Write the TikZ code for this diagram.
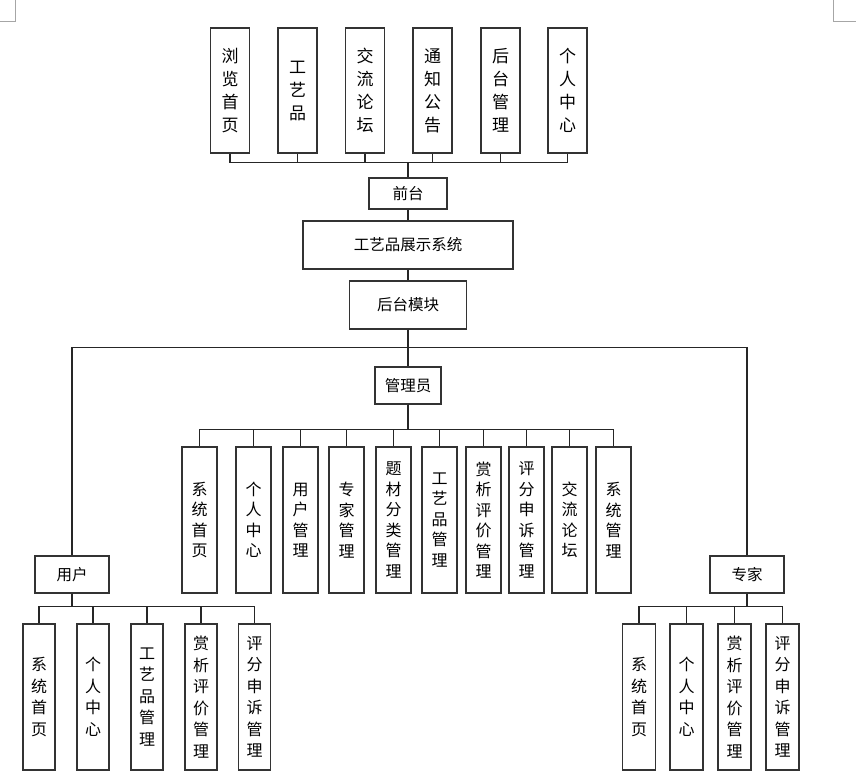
\documentclass[tikz,border=0pt]{standalone}
\usepackage{fontspec}
\newfontfamily\cjk{Noto Sans CJK SC}
\usepackage{tikz}

\begin{document}
\begin{tikzpicture}[
    x=1pt, y=-1pt,
    box/.style={draw=black!80, line width=1.2pt, fill=white,
        inner sep=0pt, align=center, font=\cjk\fontsize{15.5}{21}\selectfont},
    topbox/.style={box, minimum width=39pt, minimum height=125pt,
        font=\cjk\fontsize{17}{23}\selectfont},
    adminbox/.style={box, minimum width=35pt, minimum height=146pt,
        font=\cjk\fontsize{16}{20.5}\selectfont},
    subbox/.style={box, minimum width=32pt, minimum height=146pt,
        font=\cjk\fontsize{16}{21.5}\selectfont},
    edge/.style={draw=black!85, line width=1.2pt},
    corner/.style={draw=black!35, line width=0.8pt}
]
    \useasboundingbox (0,0) rectangle (856,779);
    % page corner marks
    \draw[corner] (15,0) -- (15,21) -- (0,21);
    \draw[corner] (833,0) -- (833,21) -- (856,21);

    % front end
    \node[topbox] (t1) at (230,90.5) {浏\\览\\首\\页};
    \node[topbox] (t2) at (297.5,90.5) {工\\艺\\品};
    \node[topbox] (t3) at (365,90.5) {交\\流\\论\\坛};
    \node[topbox] (t4) at (432.5,90.5) {通\\知\\公\\告};
    \node[topbox] (t5) at (500.5,90.5) {后\\台\\管\\理};
    \node[topbox] (t6) at (567.5,90.5) {个\\人\\中\\心};
    \node[box, minimum width=78pt, minimum height=31pt] (front) at (408,193.5) {前台};
    \node[box, minimum width=210pt, minimum height=48pt] (sys) at (408,245) {工艺品展示系统};
    \node[box, minimum width=117pt, minimum height=48pt] (back) at (408,305) {后台模块};
    \node[box, minimum width=66pt, minimum height=37pt] (admin) at (408,385.5) {管理员};
    \node[box, minimum width=74pt, minimum height=37pt] (user) at (72,574.5) {用户};
    \node[box, minimum width=74pt, minimum height=37pt] (expert) at (747,574.5) {专家};

    % admin modules
    \node[adminbox] (a1) at (199.5,520) {系\\统\\首\\页};
    \node[adminbox] (a2) at (253.5,520) {个\\人\\中\\心};
    \node[adminbox] (a3) at (300.5,520) {用\\户\\管\\理};
    \node[adminbox] (a4) at (346.5,520) {专\\家\\管\\理};
    \node[adminbox] (a5) at (393.5,520) {题\\材\\分\\类\\管\\理};
    \node[adminbox] (a6) at (439.5,520) {工\\艺\\品\\管\\理};
    \node[adminbox] (a7) at (483.5,520) {赏\\析\\评\\价\\管\\理};
    \node[adminbox] (a8) at (526.5,520) {评\\分\\申\\诉\\管\\理};
    \node[adminbox] (a9) at (569.5,520) {交\\流\\论\\坛};
    \node[adminbox] (a10) at (613.5,520) {系\\统\\管\\理};

    % user modules
    \node[subbox] (u1) at (39,697) {系\\统\\首\\页};
    \node[subbox] (u2) at (93,697) {个\\人\\中\\心};
    \node[subbox] (u3) at (147,697) {工\\艺\\品\\管\\理};
    \node[subbox] (u4) at (201,697) {赏\\析\\评\\价\\管\\理};
    \node[subbox] (u5) at (254.5,697) {评\\分\\申\\诉\\管\\理};

    % expert modules
    \node[subbox, minimum width=33pt] (e1) at (639,697) {系\\统\\首\\页};
    \node[subbox, minimum width=33pt] (e2) at (686.5,697) {个\\人\\中\\心};
    \node[subbox, minimum width=33pt] (e3) at (734.5,697) {赏\\析\\评\\价\\管\\理};
    \node[subbox, minimum width=33pt] (e4) at (782.5,697) {评\\分\\申\\诉\\管\\理};

    % connectors
    \draw[edge] (t1.south) -- ++(0,9) -| (front.north);
    \draw[edge] (t2.south) -- ++(0,9) -| (front.north);
    \draw[edge] (t3.south) -- ++(0,9) -| (front.north);
    \draw[edge] (t4.south) -- ++(0,9) -| (front.north);
    \draw[edge] (t5.south) -- ++(0,9) -| (front.north);
    \draw[edge] (t6.south) -- ++(0,9) -| (front.north);
    \draw[edge] (front) -- (sys);
    \draw[edge] (sys) -- (back);
    \draw[edge] (back) -- (admin);
    \draw[edge] (back.south) -- ++(0,18) -| (user.north);
    \draw[edge] (back.south) -- ++(0,18) -| (expert.north);
    \draw[edge] (admin.south) -- ++(0,25) -| (a1.north);
    \draw[edge] (admin.south) -- ++(0,25) -| (a2.north);
    \draw[edge] (admin.south) -- ++(0,25) -| (a3.north);
    \draw[edge] (admin.south) -- ++(0,25) -| (a4.north);
    \draw[edge] (admin.south) -- ++(0,25) -| (a5.north);
    \draw[edge] (admin.south) -- ++(0,25) -| (a6.north);
    \draw[edge] (admin.south) -- ++(0,25) -| (a7.north);
    \draw[edge] (admin.south) -- ++(0,25) -| (a8.north);
    \draw[edge] (admin.south) -- ++(0,25) -| (a9.north);
    \draw[edge] (admin.south) -- ++(0,25) -| (a10.north);
    \draw[edge] (user.south) -- ++(0,13) -| (u1.north);
    \draw[edge] (user.south) -- ++(0,13) -| (u2.north);
    \draw[edge] (user.south) -- ++(0,13) -| (u3.north);
    \draw[edge] (user.south) -- ++(0,13) -| (u4.north);
    \draw[edge] (user.south) -- ++(0,13) -| (u5.north);
    \draw[edge] (expert.south) -- ++(0,13) -| (e1.north);
    \draw[edge] (expert.south) -- ++(0,13) -| (e2.north);
    \draw[edge] (expert.south) -- ++(0,13) -| (e3.north);
    \draw[edge] (expert.south) -- ++(0,13) -| (e4.north);
\end{tikzpicture}
\end{document}
